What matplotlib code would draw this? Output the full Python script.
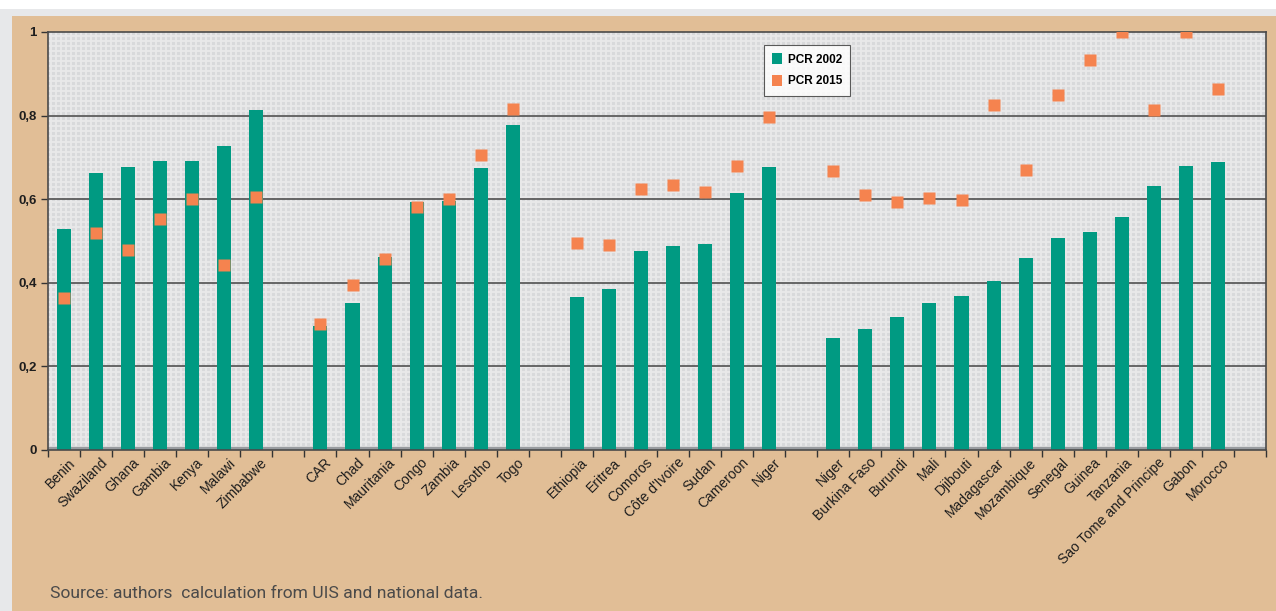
import numpy as np
import matplotlib.pyplot as plt
from matplotlib.patches import Patch, Rectangle
from matplotlib.transforms import ScaledTranslation

# country groups, separated by an empty slot on the axis
groups = [
    ["Benin", "Swaziland", "Ghana", "Gambia", "Kenya", "Malawi", "Zimbabwe"],
    ["CAR", "Chad", "Mauritania", "Congo", "Zambia", "Lesotho", "Togo"],
    ["Ethiopia", "Eritrea", "Comoros", "Côte d'Ivoire", "Sudan", "Cameroon", "Niger"],
    ["Niger", "Burkina Faso", "Burundi", "Mali", "Djibouti", "Madagascar", "Mozambique",
     "Senegal", "Guinea", "Tanzania", "Sao Tome and Principe", "Gabon", "Morocco"],
]

pcr_2002 = [
    [0.529, 0.663, 0.677, 0.691, 0.691, 0.727, 0.813],
    [0.297, 0.352, 0.462, 0.593, 0.596, 0.675, 0.778],
    [0.366, 0.385, 0.476, 0.488, 0.493, 0.615, 0.677],
    [0.268, 0.289, 0.318, 0.352, 0.368, 0.404, 0.459, 0.507, 0.522, 0.557, 0.632, 0.679, 0.689],
]
pcr_2015 = [
    [0.364, 0.519, 0.478, 0.553, 0.600, 0.443, 0.605],
    [0.301, 0.395, 0.456, 0.581, 0.600, 0.706, 0.816],
    [0.495, 0.490, 0.624, 0.634, 0.617, 0.679, 0.797],
    [0.667, 0.610, 0.593, 0.603, 0.598, 0.825, 0.670, 0.849, 0.933, 1.0, 0.813, 1.0, 0.864],
]

# slot positions: one empty slot after every group
pos, labels, v02, v15 = [], [], [], []
slot = 0
for names, a, b in zip(groups, pcr_2002, pcr_2015):
    for n, x, y in zip(names, a, b):
        pos.append(slot)
        labels.append(n)
        v02.append(x)
        v15.append(y)
        slot += 1
    slot += 1
n_slots = slot

TAN = "#e1be96"
TEAL = "#009a82"
ORANGE = "#f5834f"

fig = plt.figure(figsize=(12.76, 6.11), dpi=100)
fig.patch.set_facecolor("white")
fig.add_artist(Rectangle((0, 0), 1, 1 - 9 / 611, transform=fig.transFigure,
                         facecolor="#e7e8ea", edgecolor="none", zorder=-3))
fig.add_artist(Rectangle((12 / 1276, 0), 1, 1 - 16 / 611, transform=fig.transFigure,
                         facecolor=TAN, edgecolor="none", zorder=-2))

ax = fig.add_axes([48 / 1276, 1 - 450 / 611, (1266 - 48) / 1276, (450 - 32) / 611])
ax.set_facecolor("#d8d9db")
ax.set_xlim(-0.5, n_slots - 0.5)
ax.set_ylim(0, 1)

# fine background mesh
ax.hlines(np.arange(0.006, 1, 0.012), -0.5, n_slots - 0.5, color="#e9e9ea", lw=1.3, zorder=0)
ax.vlines(np.arange(-0.42, n_slots - 0.5, 0.156), 0, 1, color="#e9e9ea", lw=1.3, zorder=0)
ax.axhspan(0, 0.008, color="#989b9f", zorder=0.5)
for g in [0.2, 0.4, 0.6, 0.8]:
    ax.axhline(g, color="#505050", lw=1.2, zorder=1)

ax.bar(pos, v02, width=0.44, color=TEAL, zorder=2)
ax.plot(pos, v15, "s", color=ORANGE, markersize=8.5, mec="none", zorder=3)

for s in ["left", "bottom", "top", "right"]:
    ax.spines[s].set_color("#4a4a4a")
    ax.spines[s].set_linewidth(1.2)

ax.set_yticks([0, 0.2, 0.4, 0.6, 0.8, 1])
ax.set_yticklabels(["0", "0,2", "0,4", "0,6", "0,8", "1"])
ax.tick_params(axis="y", direction="out", length=5, width=1, color="#333333", pad=3,
               labelsize=9.5, labelcolor="#1e1e1e")
for t in ax.get_yticklabels():
    t.set_fontweight("bold")
    t.set_fontfamily("Liberation Sans")

ax.set_xticks(pos)
ax.set_xticklabels(labels, rotation=45, ha="right", rotation_mode="anchor",
                   fontsize=10, color="#1e1e1e", fontfamily="Liberation Sans")
ax.set_xticks(np.arange(-0.5, n_slots, 1), minor=True)
ax.tick_params(axis="x", which="major", length=0, pad=4)
ax.tick_params(axis="x", which="minor", direction="out", length=5, width=1, color="#333333")
shift = ScaledTranslation(4 / 100, 0, fig.dpi_scale_trans)
for t in ax.get_xticklabels():
    t.set_transform(t.get_transform() + shift)

handles = [Patch(facecolor=TEAL, label="PCR 2002"), Patch(facecolor=ORANGE, label="PCR 2015")]
leg = fig.legend(handles=handles, loc="upper left", bbox_to_anchor=(764 / 1276, 1 - 45 / 611),
                 frameon=True, fancybox=False, borderaxespad=0, handlelength=0.8,
                 handleheight=1.0, handletextpad=0.5, labelspacing=0.8, borderpad=0.7,
                 prop={"family": "Liberation Sans", "weight": "bold", "size": 8.5})
leg.get_frame().set_edgecolor("#333333")
leg.get_frame().set_linewidth(0.8)
leg.get_frame().set_facecolor("white")

fig.text(50 / 1276, 1 - 598 / 611, "Source: authors  calculation from UIS and national data.",
         fontsize=12.6, color="#4a4a4a", fontfamily="Roboto", va="baseline")

fig.savefig("out.png", dpi=100)
